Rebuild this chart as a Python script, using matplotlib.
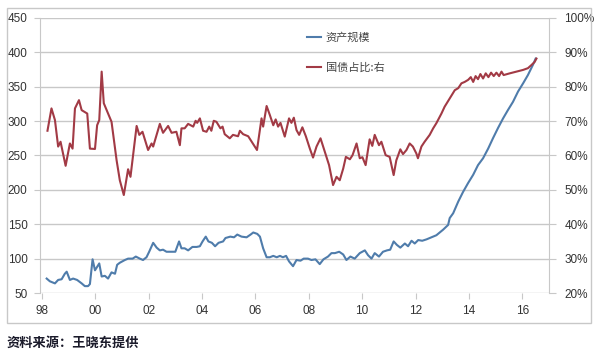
import matplotlib.pyplot as plt
from matplotlib.patches import Rectangle

plt.rcParams['font.family'] = ['Noto Sans CJK SC', 'DejaVu Sans']

# asset size (left axis)
asset_years = [
    1998.18, 1998.30, 1998.49, 1998.61, 1998.74, 1998.86, 1998.93, 1999.05, 1999.17, 1999.32,
    1999.49, 1999.61, 1999.73, 1999.80, 1999.90, 1999.99, 2000.15, 2000.24, 2000.36, 2000.48,
    2000.61, 2000.74, 2000.82, 2000.92, 2001.11, 2001.23, 2001.40, 2001.52, 2001.67, 2001.79,
    2001.92, 2002.02, 2002.17, 2002.30, 2002.42, 2002.54, 2002.67, 2002.92, 2003.00, 2003.14,
    2003.23, 2003.35, 2003.48, 2003.64, 2003.80, 2003.92, 2004.02, 2004.14, 2004.24, 2004.37,
    2004.49, 2004.62, 2004.79, 2004.88, 2005.06, 2005.20, 2005.32, 2005.48, 2005.67, 2005.82,
    2005.92, 2006.07, 2006.17, 2006.29, 2006.42, 2006.54, 2006.67, 2006.80, 2006.92, 2007.03,
    2007.15, 2007.26, 2007.41, 2007.54, 2007.69, 2007.81, 2007.97, 2008.10, 2008.25, 2008.41,
    2008.55, 2008.72, 2008.85, 2008.98, 2009.14, 2009.29, 2009.41, 2009.56, 2009.72, 2009.91,
    2010.10, 2010.22, 2010.35, 2010.47, 2010.63, 2010.78, 2010.93, 2011.05, 2011.18, 2011.30,
    2011.43, 2011.60, 2011.72, 2011.85, 2011.97, 2012.10, 2012.25, 2012.41, 2012.53, 2012.78,
    2013.03, 2013.22, 2013.28, 2013.41, 2013.60, 2013.78, 2013.97, 2014.16, 2014.34, 2014.53,
    2014.72, 2014.90, 2015.09, 2015.28, 2015.46, 2015.65, 2015.84, 2016.03, 2016.21, 2016.40,
    2016.50,
]
asset_vals = [
    71, 67, 64, 69, 70, 78, 81, 69, 71, 69,
    64, 60, 60, 63, 99, 83, 93, 74, 75, 71,
    80, 78, 91, 94, 98, 100, 100, 103, 100, 98,
    102, 110, 123, 116, 112, 113, 110, 110, 110, 125,
    115, 115, 112, 117, 117, 118, 125, 132, 125, 123,
    118, 123, 125, 130, 132, 131, 135, 132, 131, 135,
    138, 136, 132, 115, 102, 102, 104, 102, 104, 102,
    104, 96, 89, 98, 97, 100, 100, 98, 99, 92,
    99, 103, 108, 108, 110, 106, 98, 103, 100, 108,
    112, 105, 100, 108, 103, 110, 112, 113, 125, 120,
    116, 122, 118, 126, 122, 127, 126, 128, 130, 134,
    142, 149, 159, 166, 183, 197, 210, 222, 236, 246,
    260, 275, 290, 304, 316, 328, 343, 355, 367, 382,
    391,
]

# treasury share, % (right axis)
bond_years = [
    1998.21, 1998.36, 1998.49, 1998.61, 1998.70, 1998.89, 1999.05, 1999.15, 1999.24, 1999.39,
    1999.49, 1999.70, 1999.80, 1999.99, 2000.07, 2000.15, 2000.24, 2000.32, 2000.61, 2000.80,
    2000.92, 2001.07, 2001.23, 2001.32, 2001.55, 2001.65, 2001.77, 2001.98, 2002.11, 2002.17,
    2002.30, 2002.42, 2002.54, 2002.73, 2002.86, 2003.04, 2003.17, 2003.23, 2003.35, 2003.48,
    2003.67, 2003.76, 2003.82, 2003.92, 2004.04, 2004.17, 2004.27, 2004.35, 2004.44, 2004.54,
    2004.69, 2004.77, 2004.85, 2005.04, 2005.16, 2005.35, 2005.42, 2005.54, 2005.73, 2006.06,
    2006.23, 2006.29, 2006.42, 2006.54, 2006.67, 2006.76, 2006.85, 2006.94, 2007.10, 2007.26,
    2007.35, 2007.44, 2007.54, 2007.64, 2007.76, 2007.89, 2008.04, 2008.16, 2008.29, 2008.44,
    2008.60, 2008.76, 2008.91, 2009.04, 2009.16, 2009.29, 2009.39, 2009.54, 2009.64, 2009.79,
    2009.91, 2010.01, 2010.13, 2010.28, 2010.38, 2010.47, 2010.63, 2010.72, 2010.88, 2011.03,
    2011.18, 2011.28, 2011.43, 2011.53, 2011.66, 2011.78, 2011.90, 2012.03, 2012.09, 2012.22,
    2012.34, 2012.53, 2012.66, 2012.78, 2012.97, 2013.09, 2013.28, 2013.47, 2013.60, 2013.72,
    2013.84, 2013.97, 2014.07, 2014.16, 2014.25, 2014.34, 2014.43, 2014.53, 2014.63, 2014.73,
    2014.83, 2014.93, 2015.03, 2015.13, 2015.22, 2015.30, 2015.53, 2015.78, 2016.03, 2016.21,
    2016.34, 2016.46, 2016.53,
]
bond_pct = [
    67.2, 73.7, 70.3, 62.6, 64.0, 57.0, 63.5, 62.0, 73.7, 76.1,
    73.2, 72.2, 62.0, 61.9, 68.8, 70.3, 84.4, 75.2, 69.8, 58.6,
    52.8, 48.5, 56.0, 53.8, 68.6, 66.0, 66.9, 61.6, 63.5, 62.6,
    66.0, 69.2, 66.6, 68.6, 66.6, 66.9, 63.0, 67.9, 67.9, 69.2,
    68.4, 70.1, 69.5, 70.8, 67.2, 66.9, 68.4, 67.2, 70.1, 69.8,
    67.9, 68.4, 66.2, 65.0, 66.0, 65.6, 67.2, 66.2, 65.6, 61.6,
    70.8, 68.4, 74.4, 71.8, 68.8, 70.5, 68.4, 69.5, 65.5, 70.8,
    69.5, 71.0, 67.4, 66.0, 68.2, 65.6, 62.0, 59.4, 62.6, 65.0,
    61.1, 57.2, 51.4, 53.8, 52.8, 56.2, 59.6, 58.9, 60.1, 63.5,
    59.2, 59.5, 57.2, 64.7, 62.8, 66.0, 63.0, 64.0, 60.1, 59.6,
    54.3, 58.6, 61.8, 60.4, 61.6, 63.5, 62.6, 60.6, 59.2, 62.6,
    64.0, 66.0, 67.9, 69.4, 72.2, 74.2, 76.6, 79.0, 79.6, 81.0,
    81.4, 82.0, 82.8, 81.4, 83.1, 82.2, 83.7, 82.4, 83.9, 82.8,
    84.1, 83.1, 84.1, 83.1, 84.4, 83.4, 83.9, 84.4, 84.9, 85.4,
    86.3, 87.2, 88.2,
]

year_ticks = [1998, 2000, 2002, 2004, 2006, 2008, 2010, 2012, 2014, 2016]
year_labels = ['98', '00', '02', '04', '06', '08', '10', '12', '14', '16']
left_ticks = [50, 100, 150, 200, 250, 300, 350, 400, 450]
right_ticks = [20, 30, 40, 50, 60, 70, 80, 90, 100]

blue = '#4f7cab'
red = '#a23a45'
grid_c = '#c8c8c8'

fig = plt.figure(figsize=(6, 3.56), dpi=100)
ax = fig.add_axes([40 / 600, 1 - 293 / 356, 509 / 600, 275 / 356])
ax2 = ax.twinx()

line1, = ax.plot(asset_years, asset_vals, color=blue, lw=1.5, label='资产规模')
line2, = ax2.plot(bond_years, bond_pct, color=red, lw=1.5, label='国债占比:右')

ax.set_xlim(1997.93, 2017.0)
ax.set_ylim(50, 450)
ax2.set_ylim(20, 100)

ax.set_yticks(left_ticks)
ax.set_xticks(year_ticks)
ax.set_xticklabels(year_labels)
ax2.set_yticks(right_ticks)
ax2.set_yticklabels([f'{t}%' for t in right_ticks])

for t in left_ticks:
    ax.axhline(t, color=grid_c, lw=1, zorder=0)

for a in (ax, ax2):
    for s in a.spines.values():
        s.set_visible(False)
ax.spines['left'].set_visible(True)
ax.spines['left'].set_color(grid_c)
ax2.spines['right'].set_visible(True)
ax2.spines['right'].set_color(grid_c)

ax.tick_params(axis='y', length=4, color=grid_c, pad=5, labelsize=8.5, labelcolor='#333333')
ax.tick_params(axis='x', length=4, color=grid_c, pad=5, labelsize=8.5, labelcolor='#333333')
ax2.tick_params(axis='y', length=5, color=grid_c, pad=6, labelsize=8.5, labelcolor='#333333')
for lab in ax.get_xticklabels() + ax.get_yticklabels() + ax2.get_yticklabels():
    lab.set_family(['Liberation Sans', 'DejaVu Sans'])

ax.legend(handles=[line1, line2], loc='upper left', bbox_to_anchor=(0.505, 0.985),
          frameon=False, fontsize=8, handlelength=1.3, handletextpad=0.4,
          labelspacing=1.8, labelcolor='#444444')

# outer frame
fig.patches.append(Rectangle((7 / 600, 1 - 323 / 356), 584 / 600, 315 / 356,
                             transform=fig.transFigure, fill=False,
                             edgecolor='#c8c8c8', lw=1))

fig.text(7 / 600, 1 - 343 / 356, '资料来源：王晓东提供', fontsize=9.5,
         fontweight='bold', color='#1a1a2a', va='center', ha='left')

fig.savefig('out.png', dpi=100)
